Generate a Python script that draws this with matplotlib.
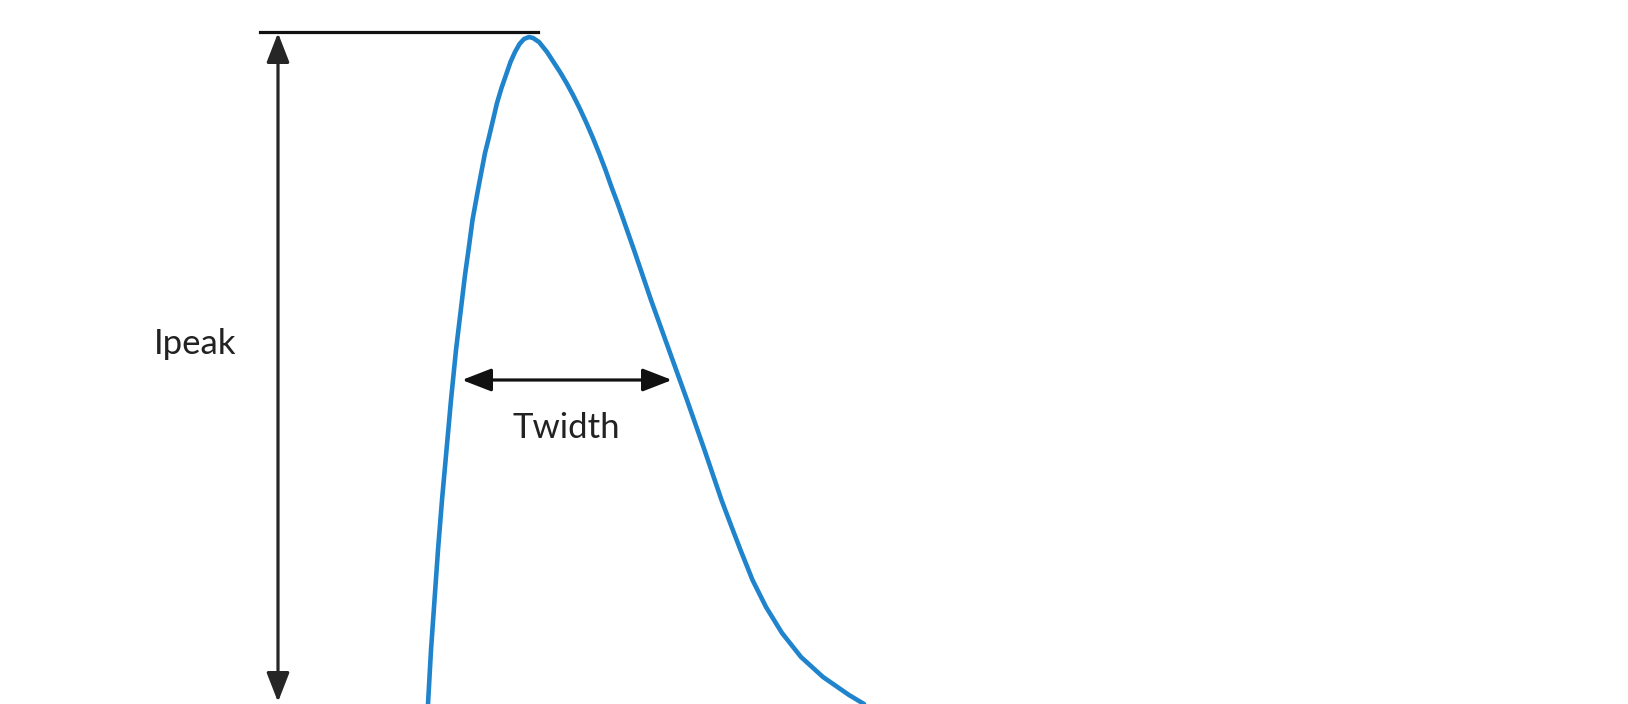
import matplotlib
matplotlib.use("Agg")
import matplotlib.pyplot as plt

# Pulse curve (x, y in picture units, y grows downward)
rise_x = [428, 431, 434.5, 438, 442, 446.5, 451, 456, 462, 465, 468.5, 472.5, 478.5,
          485, 489, 493, 497, 501.5, 506, 510.5, 515, 519.5, 524, 529]
rise_y = [704, 650, 600, 550, 500, 450, 400, 350, 300, 275, 250, 220, 187,
          153, 137, 120, 103, 88, 75, 62, 52, 44, 39, 37]
fall_x = [533, 539, 543, 547, 553.5, 560, 566.5, 573, 579.5, 586, 592.5, 599, 605.5,
          611.5, 617.5, 623.5, 634, 651, 669, 687, 704.5, 721.5, 729, 740.5, 752.5,
          766, 782, 801, 823, 849, 864]
fall_y = [38, 42, 47, 52, 62, 72, 83, 95, 108, 122, 137, 153, 170,
          187, 203, 220, 250, 300, 350, 400, 450, 500, 520, 550, 580,
          607, 633, 657, 677, 695, 704]

peak_line_x = [260, 538]
peak_level = 32
ipeak_x = 278
ipeak_range = [33, 702]
twidth_y = 380
twidth_range = [462, 672]

labels = ["Ipeak", "Twidth"]
label_pos = [(195, 344), (566, 428)]

fig = plt.figure(figsize=(16.28, 7.04), dpi=100)
ax = fig.add_axes([0, 0, 1, 1])
ax.set_xlim(0, 1628)
ax.set_ylim(704, 0)
ax.axis("off")

ax.plot(rise_x + fall_x, rise_y + fall_y, color="#1f84cc", lw=3.3,
        solid_capstyle="round", solid_joinstyle="round")

ax.plot(peak_line_x, [peak_level, peak_level], color="#111111", lw=2.3)

arrow_kw = dict(arrowstyle="<|-|>,head_length=1.8,head_width=0.7",
                color="#111111", lw=2.3, shrinkA=0, shrinkB=0)
ax.annotate("", xy=(ipeak_x, ipeak_range[0]), xytext=(ipeak_x, ipeak_range[1]),
            arrowprops=dict(arrow_kw, color="#262626"))
ax.annotate("", xy=(twidth_range[0], twidth_y), xytext=(twidth_range[1], twidth_y),
            arrowprops=arrow_kw)

for lab, (x, y) in zip(labels, label_pos):
    ax.text(x, y, lab, ha="center", va="center", fontsize=25,
            family=["Lato", "DejaVu Sans"], color="#222222")

fig.savefig("out.png", dpi=100, facecolor="white")
